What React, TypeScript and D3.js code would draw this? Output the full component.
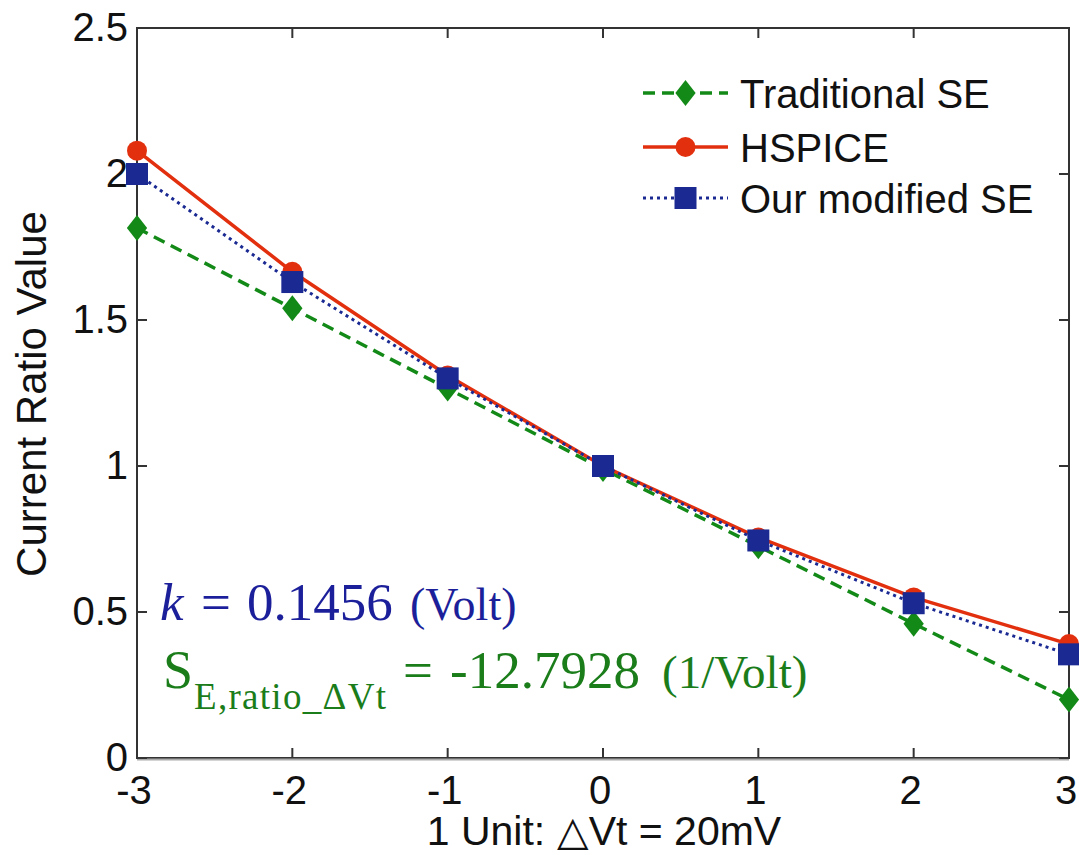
import React from "react";
import * as d3 from "d3";

const xValues = [-3, -2, -1, 0, 1, 2, 3];
const traditionalSE = [1.815, 1.54, 1.265, 0.99, 0.725, 0.46, 0.2];
const hspice = [2.08, 1.665, 1.31, 1.0, 0.755, 0.55, 0.39];
const modifiedSE = [2.0, 1.63, 1.3, 1.0, 0.745, 0.53, 0.355];
const yTicks = [0, 0.5, 1, 1.5, 2, 2.5];
const yTickLabels = ["0", "0.5", "1", "1.5", "2", "2.5"];
const xTickLabels = ["-3", "-2", "-1", "0", "1", "2", "3"];
const seriesNames = ["Traditional SE", "HSPICE", "Our modified SE"];

const W = 1079, H = 855;
const L = 137, R = 1069, T = 28, B = 758;

export default function App() {
  const x = d3.scaleLinear().domain([-3, 3]).range([L, R]);
  const y = d3.scaleLinear().domain([0, 2.5]).range([B, T]);
  const line = d3.line<number>().x((_, i) => x(xValues[i])).y((d) => y(d));

  const green = "#138a17";
  const red = "#e2300f";
  const blue = "#1a2a92";
  const textBlue = "#1c1f9a";
  const textGreen = "#1a7d1a";
  const font = "Liberation Sans, Arial, sans-serif";
  const serif = "Liberation Serif, Times New Roman, serif";

  const diamond = (cx: number, cy: number, key: string, s = 13) => (
    <path key={key} d={`M${cx},${cy - s}L${cx + s * 0.78},${cy}L${cx},${cy + s}L${cx - s * 0.78},${cy}Z`} fill={green} />
  );
  const square = (cx: number, cy: number, key: string, s = 11) => (
    <rect key={key} x={cx - s} y={cy - s} width={2 * s} height={2 * s} fill={blue} />
  );
  const circle = (cx: number, cy: number, key: string) => (
    <circle key={key} cx={cx} cy={cy} r={10} fill={red} />
  );

  const legendX0 = 643, legendX1 = 728, legendTextX = 740;
  const legendRows = [93, 147, 198];

  return (
    <svg width={W} height={H} style={{ position: "absolute", left: 0, top: 0, background: "#fff" }}>
      <rect x={0} y={0} width={W} height={H} fill="#fff" />
      {/* box */}
      <rect x={L} y={T} width={R - L} height={B - T} fill="none" stroke="#333" strokeWidth={2} />
      <line x1={L} x2={R} y1={B + 1.5} y2={B + 1.5} stroke="#aaa" strokeWidth={2} />
      {/* x ticks */}
      {xValues.map((v, i) => (
        <g key={"xt" + i}>
          <line x1={x(v)} x2={x(v)} y1={B} y2={B - 10} stroke="#333" strokeWidth={2} />
          <line x1={x(v)} x2={x(v)} y1={T} y2={T + 10} stroke="#333" strokeWidth={2} />
          <text x={x(v) - 3} y={B + 46} textAnchor="middle" fontFamily={font} fontSize={40} fill="#111">
            {xTickLabels[i]}
          </text>
        </g>
      ))}
      {/* y ticks */}
      {yTicks.map((v, i) => (
        <g key={"yt" + i}>
          <line x1={L} x2={L + 10} y1={y(v)} y2={y(v)} stroke="#333" strokeWidth={2} />
          <line x1={R} x2={R - 10} y1={y(v)} y2={y(v)} stroke="#333" strokeWidth={2} />
          <text x={L - 9} y={y(v) + 13} textAnchor="end" fontFamily={font} fontSize={40} fill="#111">
            {yTickLabels[i]}
          </text>
        </g>
      ))}
      {/* axis titles */}
      <text x={604} y={845} textAnchor="middle" fontFamily={font} fontSize={41} fill="#111">
        1 Unit: △Vt = 20mV
      </text>
      <text transform={`translate(46,${394}) rotate(-90)`} textAnchor="middle" fontFamily={font} fontSize={42} fill="#111">
        Current Ratio Value
      </text>
      {/* series lines */}
      <path d={line(traditionalSE) || ""} fill="none" stroke={green} strokeWidth={3.5} strokeDasharray="12,7" />
      <path d={line(hspice) || ""} fill="none" stroke={red} strokeWidth={3.5} />
      <path d={line(modifiedSE) || ""} fill="none" stroke={blue} strokeWidth={3} strokeDasharray="3,4" />
      {traditionalSE.map((d, i) => diamond(x(xValues[i]), y(d), "dm" + i))}
      {hspice.map((d, i) => circle(x(xValues[i]), y(d), "ci" + i))}
      {modifiedSE.map((d, i) => square(x(xValues[i]), y(d), "sq" + i))}
      {/* legend */}
      <line x1={legendX0} x2={legendX1} y1={legendRows[0]} y2={legendRows[0]} stroke={green} strokeWidth={3.5} strokeDasharray="12,7" />
      {diamond((legendX0 + legendX1) / 2, legendRows[0], "ld", 13)}
      <line x1={legendX0} x2={legendX1} y1={legendRows[1]} y2={legendRows[1]} stroke={red} strokeWidth={3.5} />
      {circle((legendX0 + legendX1) / 2, legendRows[1], "lc")}
      <line x1={legendX0} x2={legendX1} y1={legendRows[2]} y2={legendRows[2]} stroke={blue} strokeWidth={3} strokeDasharray="3,4" />
      {square((legendX0 + legendX1) / 2, legendRows[2], "ls", 11)}
      {seriesNames.map((n, i) => (
        <text key={"ln" + i} x={legendTextX} y={legendRows[i] + 15} fontFamily={font} fontSize={40} fill="#111">
          {n}
        </text>
      ))}
      {/* annotations */}
      <text y={620} fontFamily={serif} fontSize={53} fill={textBlue}>
        <tspan x={160} fontStyle="italic">k</tspan>
        <tspan x={201}>=</tspan>
        <tspan x={247}>0.1456</tspan>
        <tspan x={410} fontSize={46}>(Volt)</tspan>
      </text>
      <text y={688} fontFamily={serif} fontSize={53} fill={textGreen}>
        <tspan x={163} fontSize={54}>S</tspan>
        <tspan x={194} y={709} fontSize={37} letterSpacing={1.3}>E,ratio_ΔVt</tspan>
        <tspan x={403} y={688}>=</tspan>
        <tspan x={450}>-12.7928</tspan>
        <tspan x={662} fontSize={47}>(1/Volt)</tspan>
      </text>
    </svg>
  );
}
